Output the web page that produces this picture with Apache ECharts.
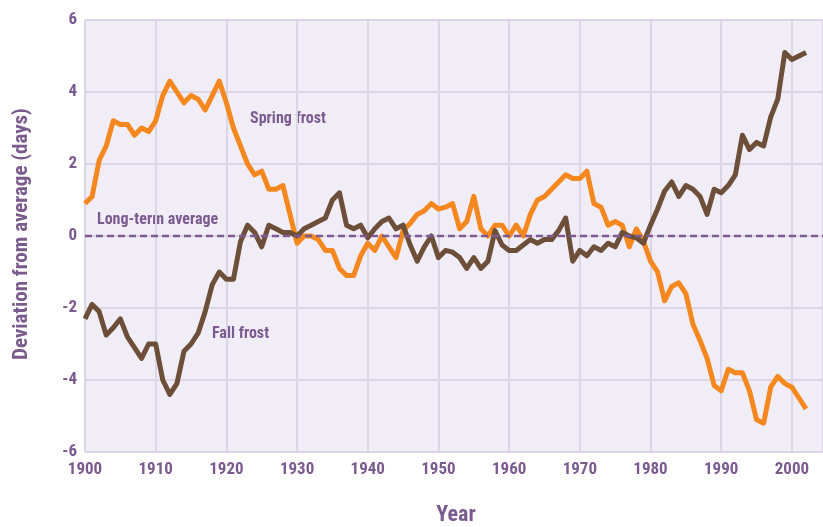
<!DOCTYPE html>
<html>
<head>
<meta charset="utf-8">
<script src="https://cdn.jsdelivr.net/npm/echarts@6/dist/echarts.min.js"></script>
<style>
  html, body { margin: 0; padding: 0; background: #ffffff; }
  #chart { width: 823px; height: 527px; }
</style>
</head>
<body>
<div id="chart"></div>
<script>
// Frost date deviations from the long-term average (days), 1900–2002
const years = [];
for (let y = 1900; y <= 2002; y++) years.push(y);

const springFrost = [
  0.9, 1.1, 2.1, 2.5, 3.2, 3.1, 3.1, 2.8, 3.0, 2.9,
  3.2, 3.9, 4.3, 4.0, 3.7, 3.9, 3.8, 3.5, 3.9, 4.3,
  3.7, 3.0, 2.5, 2.0, 1.7, 1.8, 1.3, 1.3, 1.4, 0.6,
  -0.2, 0.0, 0.0, -0.1, -0.4, -0.4, -0.9, -1.1, -1.1, -0.55,
  -0.2, -0.4, 0.0, -0.3, -0.6, 0.15, 0.35, 0.6, 0.7, 0.9,
  0.75, 0.8, 0.9, 0.2, 0.4, 1.1, 0.2, 0.0, 0.3, 0.3,
  0.0, 0.3, 0.0, 0.6, 1.0, 1.1, 1.3, 1.5, 1.7, 1.6,
  1.6, 1.8, 0.9, 0.8, 0.3, 0.4, 0.3, -0.3, 0.2, -0.15,
  -0.7, -1.0, -1.8, -1.4, -1.3, -1.6, -2.45, -2.9, -3.4, -4.15,
  -4.3, -3.7, -3.8, -3.8, -4.3, -5.1, -5.2, -4.2, -3.9, -4.1,
  -4.2, -4.5, -4.8
];

const fallFrost = [
  -2.3, -1.9, -2.1, -2.75, -2.55, -2.3, -2.8, -3.1, -3.4, -3.0,
  -3.0, -4.0, -4.4, -4.1, -3.2, -3.0, -2.7, -2.1, -1.35, -1.0,
  -1.2, -1.2, -0.15, 0.3, 0.1, -0.3, 0.3, 0.2, 0.1, 0.1,
  0.0, 0.2, 0.3, 0.4, 0.5, 1.0, 1.2, 0.3, 0.2, 0.3,
  -0.05, 0.2, 0.4, 0.5, 0.2, 0.3, -0.25, -0.7, -0.3, 0.0,
  -0.6, -0.4, -0.45, -0.6, -0.9, -0.6, -0.9, -0.7, 0.15, -0.25,
  -0.4, -0.4, -0.25, -0.1, -0.2, -0.1, -0.1, 0.15, 0.5, -0.7,
  -0.4, -0.55, -0.3, -0.4, -0.2, -0.3, 0.1, 0.0, -0.05, -0.2,
  0.3, 0.75, 1.25, 1.5, 1.1, 1.4, 1.3, 1.1, 0.6, 1.3,
  1.2, 1.4, 1.7, 2.8, 2.4, 2.6, 2.5, 3.3, 3.8, 5.1,
  4.9, 5.0, 5.1
];

const yTicks = [-6, -4, -2, 0, 2, 4, 6];
const xTickStep = 10;

const purple = '#7b5a8e';
const font = '"Liberation Sans Narrow", "Roboto Condensed", "DejaVu Sans Condensed", sans-serif';

const chart = echarts.init(document.getElementById('chart'), null, { renderer: 'canvas' });

const pair = (vals) => years.map((y, i) => [y, vals[i]]);

chart.setOption({
  animation: false,
  backgroundColor: '#ffffff',
  grid: {
    left: 85, top: 20, right: 0, bottom: 75,
    show: true, backgroundColor: '#f0edf7', borderWidth: 0
  },
  xAxis: {
    type: 'value',
    min: 1900, max: 2004.4, interval: xTickStep,
    axisLine: { show: false },
    axisTick: { show: false },
    axisLabel: {
      showMaxLabel: false, color: purple, fontFamily: font,
      fontWeight: 'bold', fontSize: 17, margin: 9,
      formatter: (v) => String(v)
    },
    splitLine: { show: true, lineStyle: { color: '#dcd5e5', width: 2 } }
  },
  yAxis: {
    type: 'value',
    min: yTicks[0], max: yTicks[yTicks.length - 1], interval: 2,
    axisLine: { show: false },
    axisTick: { show: false },
    axisLabel: {
      color: purple, fontFamily: font, fontWeight: 'bold', fontSize: 17, margin: 8
    },
    splitLine: { show: true, lineStyle: { color: '#dcd5e5', width: 2 } }
  },
  series: [
    {
      name: 'Spring frost', type: 'line', data: pair(springFrost),
      showSymbol: false, z: 3,
      lineStyle: { color: '#f5871f', width: 5, join: 'round' },
      markLine: {
        silent: true, symbol: 'none', label: { show: false },
        lineStyle: { color: '#7d5b92', type: [7, 4], width: 2.4 },
        data: [{ yAxis: 0 }]
      }
    },
    {
      name: 'Fall frost', type: 'line', data: pair(fallFrost),
      showSymbol: false, z: 4,
      lineStyle: { color: '#6d4f39', width: 5, join: 'round' }
    }
  ],
  graphic: [
    {
      type: 'text', left: 250, top: 111,
      style: { text: 'Spring frost', fill: purple, font: 'bold 16px ' + font }
    },
    {
      type: 'text', left: 97, top: 212,
      style: { text: 'Long-term average', fill: purple, font: 'bold 16px ' + font }
    },
    {
      type: 'text', left: 212, top: 326,
      style: { text: 'Fall frost', fill: purple, font: 'bold 16px ' + font }
    },
    {
      type: 'text', x: 22, y: 234, rotation: Math.PI / 2,
      style: {
        text: 'Deviation from average (days)', fill: purple,
        font: 'bold 21px ' + font, textAlign: 'center', textVerticalAlign: 'middle'
      }
    },
    {
      type: 'text', x: 456, y: 515,
      style: {
        text: 'Year', fill: purple, font: 'bold 22px ' + font,
        textAlign: 'center', textVerticalAlign: 'middle'
      }
    }
  ]
});
</script>
</body>
</html>
